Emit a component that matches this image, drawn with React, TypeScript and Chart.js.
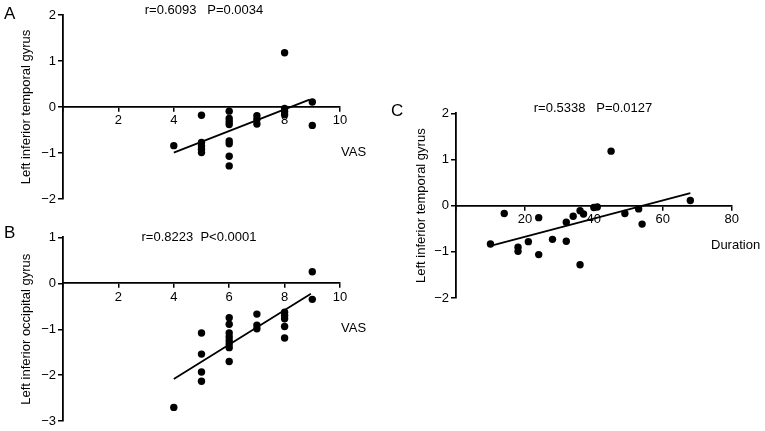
import React, { useEffect, useRef } from "react";
import { Chart, registerables } from "chart.js";
Chart.register(...registerables);

const FONT = "'Liberation Sans', Arial, Helvetica, sans-serif";

// Panel A: VAS vs left inferior temporal gyrus
const vasA = [4, 5, 5, 5, 5, 5, 6, 6, 6, 6, 6, 6, 6, 6, 7, 7, 7, 8, 8, 8, 8, 9, 9];
const temporalA = [-0.84, -0.18, -0.77, -0.85, -0.92, -0.99, -0.09, -0.25, -0.32, -0.38, -0.74, -0.8, -1.07, -1.28, -0.19, -0.27, -0.37, 1.18, -0.03, -0.1, -0.17, 0.11, -0.4];
const fitAX = [4, 8.9];
const fitAY = [-0.99, 0.16];

// Panel B: VAS vs left inferior occipital gyrus
const vasB = [4, 5, 5, 5, 5, 6, 6, 6, 6, 6, 6, 6, 6, 7, 7, 7, 8, 8, 8, 8, 8, 9, 9];
const occipitalB = [-2.7, -1.08, -1.54, -1.93, -2.13, -0.75, -0.89, -1.08, -1.17, -1.25, -1.32, -1.4, -1.7, -0.67, -0.91, -0.99, -0.63, -0.7, -0.77, -0.94, -1.19, 0.25, -0.35];
const fitBX = [4, 8.95];
const fitBY = [-2.08, -0.23];

// Panel C: Duration vs left inferior temporal gyrus
const durationC = [10, 14, 18, 18, 21, 24, 24, 28, 32, 32, 34, 36, 37, 36, 40, 41, 45, 49, 53, 54, 68];
const temporalC = [-0.83, -0.17, -0.9, -0.99, -0.78, -0.26, -1.06, -0.73, -0.36, -0.77, -0.23, -0.11, -0.18, -1.28, -0.04, -0.03, 1.18, -0.17, -0.07, -0.4, 0.11];
const fitCX = [10, 68];
const fitCY = [-0.87, 0.27];

const statsA = "r=0.6093   P=0.0034";
const statsB = "r=0.8223  P<0.0001";
const statsC = "r=0.5338   P=0.0127";

type TextItem = { text: string; x: number; y: number; size: number; align: CanvasTextAlign };

type PanelProps = {
  left: number;
  top: number;
  width: number;
  height: number;
  area: { left: number; top: number; right: number; bottom: number };
  xMin: number;
  xMax: number;
  xStep: number;
  yMin: number;
  yMax: number;
  xs: number[];
  ys: number[];
  fitX: number[];
  fitY: number[];
  yTitle: string;
  yTitlePad: number;
  texts: TextItem[];
};

const fmtY = (v: number) => (v < 0 ? "\u2212" + Math.abs(v) : String(v));

function Panel(p: PanelProps) {
  const ref = useRef<HTMLCanvasElement>(null);
  useEffect(() => {
    const textPlugin = {
      id: "panelTexts",
      afterDraw(chart: any) {
        const ctx = chart.ctx as CanvasRenderingContext2D;
        ctx.save();
        ctx.fillStyle = "#000";
        ctx.textBaseline = "middle";
        for (const t of p.texts) {
          ctx.font = `${t.size}px ${FONT}`;
          ctx.textAlign = t.align;
          ctx.fillText(t.text, t.x, t.y);
        }
        ctx.restore();
      },
    };
    const tickFont = { family: FONT, size: 13 };
    const chart = new Chart(ref.current as HTMLCanvasElement, {
      type: "scatter",
      data: {
        datasets: [
          {
            type: "line",
            data: p.fitX.map((x, i) => ({ x, y: p.fitY[i] })),
            borderColor: "#000",
            borderWidth: 1.8,
            pointRadius: 0,
            fill: false,
            order: 1,
          } as any,
          {
            data: p.xs.map((x, i) => ({ x, y: p.ys[i] })),
            backgroundColor: "#000",
            borderColor: "#000",
            borderWidth: 0,
            pointRadius: 3.7,
            pointHoverRadius: 3.7,
            order: 0,
          },
        ],
      },
      options: {
        responsive: false,
        animation: false,
        events: [],
        layout: {
          autoPadding: false,
          padding: {
            left: 0,
            top: p.area.top,
            right: p.width - p.area.right,
            bottom: p.height - p.area.bottom,
          },
        },
        plugins: {
          legend: { display: false },
          tooltip: { enabled: false },
          title: { display: false },
        },
        scales: {
          x: {
            type: "linear",
            position: { y: 0 } as any,
            min: p.xMin,
            max: p.xMax,
            ticks: {
              stepSize: p.xStep,
              callback: (v: any) => (v === 0 ? "" : String(v)),
              font: tickFont,
              color: "#000",
              padding: 2,
              maxRotation: 0,
              autoSkip: false,
            },
            grid: { drawOnChartArea: false, tickLength: 4, color: "#000", lineWidth: 1.5 },
            border: { color: "#000", width: 1.8 },
          },
          y: {
            type: "linear",
            position: "left",
            min: p.yMin,
            max: p.yMax,
            ticks: {
              stepSize: 1,
              callback: (v: any) => fmtY(Number(v)),
              font: tickFont,
              color: "#000",
              padding: 2,
            },
            grid: { drawOnChartArea: false, tickLength: 5, color: "#000", lineWidth: 1.5 },
            border: { color: "#000", width: 1.8 },
            title: {
              display: true,
              text: p.yTitle,
              color: "#000",
              font: { family: FONT, size: 13 },
              padding: { top: p.yTitlePad, bottom: 0 },
            },
            afterFit: (s: any) => {
              s.width = p.area.left;
            },
          },
        },
      } as any,
      plugins: [textPlugin],
    });
    return () => chart.destroy();
  }, []);
  return (
    <canvas
      ref={ref}
      width={p.width}
      height={p.height}
      style={{ position: "absolute", left: p.left, top: p.top, width: p.width, height: p.height }}
    />
  );
}

export default function App() {
  return (
    <div style={{ position: "absolute", left: 0, top: 0, width: 765, height: 431, background: "#fff", overflow: "hidden" }}>
      <Panel
        left={0}
        top={0}
        width={380}
        height={215}
        area={{ left: 63, top: 15, right: 340, bottom: 199 }}
        xMin={0}
        xMax={10}
        xStep={2}
        yMin={-2}
        yMax={2}
        xs={vasA}
        ys={temporalA}
        fitX={fitAX}
        fitY={fitAY}
        yTitle="Left inferior temporal gyrus"
        yTitlePad={19}
        texts={[
          { text: "A", x: 4, y: 14, size: 17, align: "left" },
          { text: statsA, x: 204, y: 10, size: 13, align: "center" },
          { text: "VAS", x: 341, y: 152, size: 13, align: "left" },
        ]}
      />
      <Panel
        left={0}
        top={215}
        width={380}
        height={216}
        area={{ left: 63, top: 22.3, right: 340, bottom: 206.7 }}
        xMin={0}
        xMax={10}
        xStep={2}
        yMin={-3}
        yMax={1}
        xs={vasB}
        ys={occipitalB}
        fitX={fitBX}
        fitY={fitBY}
        yTitle="Left inferior occipital gyrus"
        yTitlePad={19}
        texts={[
          { text: "B", x: 4, y: 18, size: 17, align: "left" },
          { text: statsB, x: 199, y: 22, size: 13, align: "center" },
          { text: "VAS", x: 341, y: 113, size: 13, align: "left" },
        ]}
      />
      <Panel
        left={380}
        top={90}
        width={385}
        height={240}
        area={{ left: 76, top: 23.3, right: 351.7, bottom: 208 }}
        xMin={0}
        xMax={80}
        xStep={20}
        yMin={-2}
        yMax={2}
        xs={durationC}
        ys={temporalC}
        fitX={fitCX}
        fitY={fitCY}
        yTitle="Left inferior temporal gyrus"
        yTitlePad={34}
        texts={[
          { text: "C", x: 11, y: 21, size: 17, align: "left" },
          { text: statsC, x: 213, y: 18, size: 13, align: "center" },
          { text: "Duration", x: 331, y: 155, size: 13, align: "left" },
        ]}
      />
    </div>
  );
}
